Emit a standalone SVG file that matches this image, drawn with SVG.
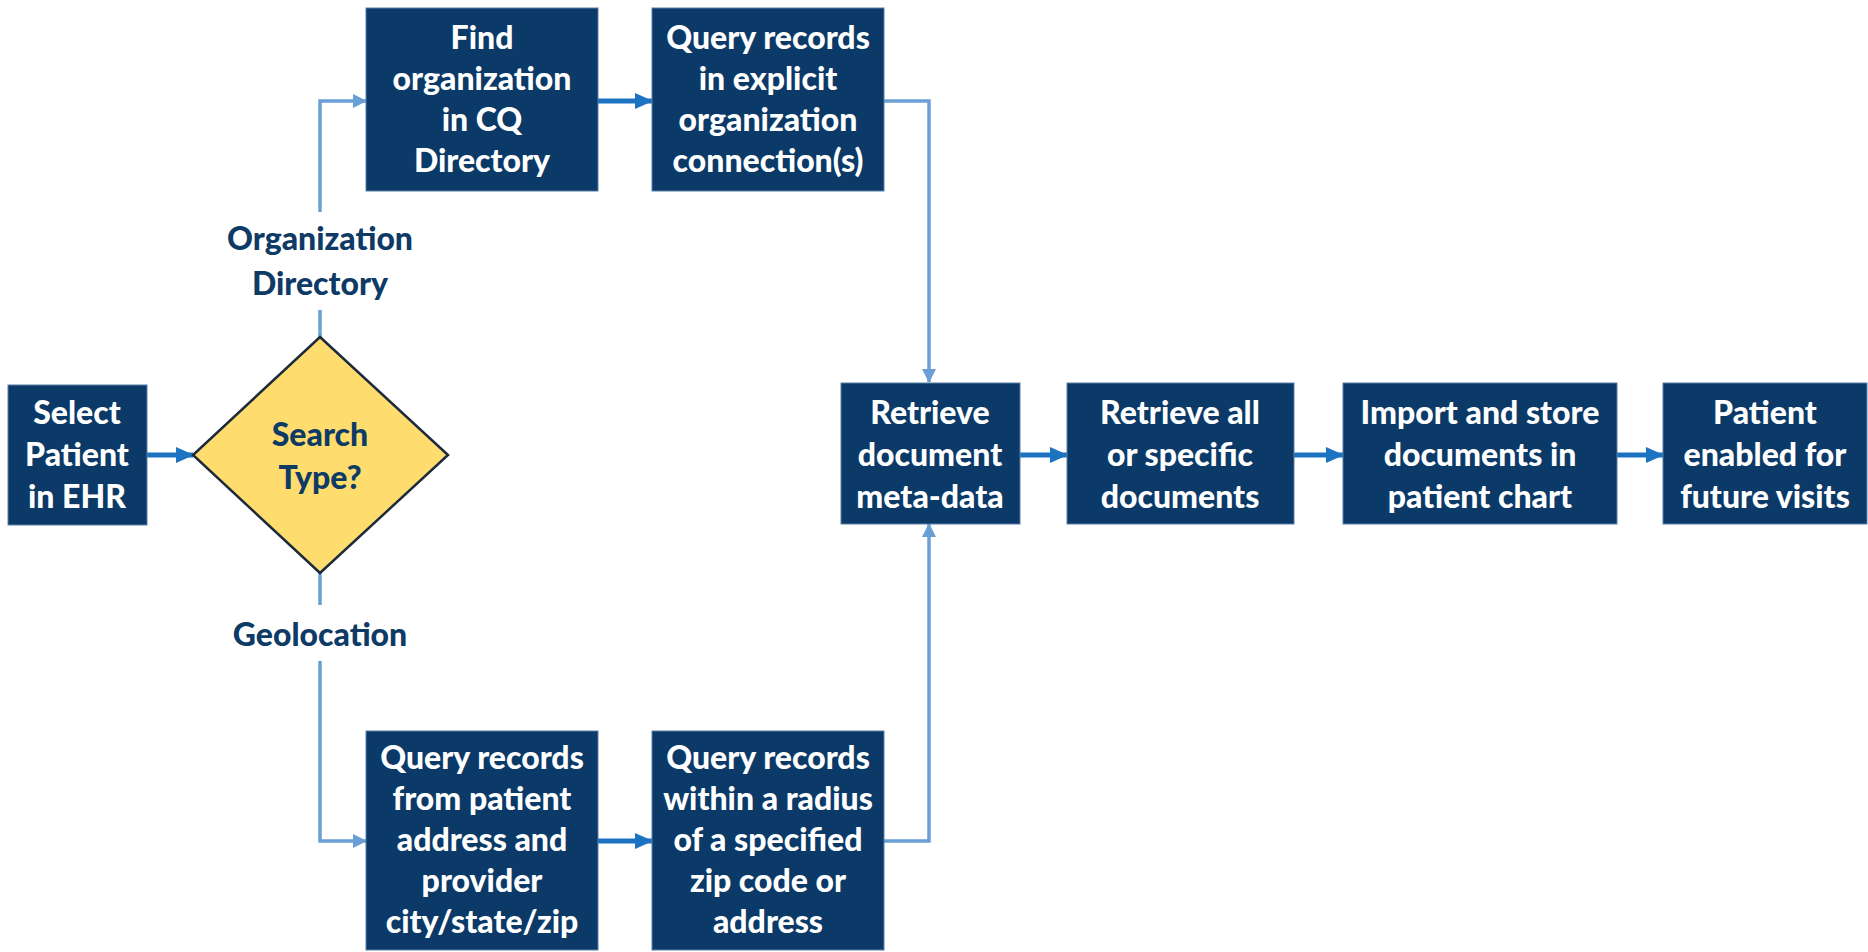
<svg xmlns="http://www.w3.org/2000/svg" width="1868" height="952" viewBox="0 0 1868 952">
<defs>
<style>
.box{fill:#0B3A68;stroke:#5A7FA8;stroke-width:1}
.t{font-family:Lato,"Open Sans",sans-serif;font-weight:900;font-size:32px;fill:#FFFFFF;text-anchor:middle}
.lbl{font-family:Lato,"Open Sans",sans-serif;font-weight:900;font-size:32px;fill:#0E3A66;text-anchor:middle}
.dk{fill:none;stroke:#1C73C2;stroke-width:5}
.lt{fill:none;stroke:#6A9FD6;stroke-width:3.5}
</style>
<marker id="al" markerWidth="14" markerHeight="14" refX="13" refY="7" orient="auto" markerUnits="userSpaceOnUse" viewBox="0 0 14 14"><path d="M0,0 L14,7 L0,14 z" fill="#6A9FD6"/></marker>
<marker id="adk" markerWidth="18" markerHeight="18" refX="17" refY="9" orient="auto" markerUnits="userSpaceOnUse" viewBox="0 0 18 18"><path d="M0,1 L18,9 L0,17 z" fill="#1C73C2"/></marker>
</defs>
<rect width="1868" height="952" fill="#FFFFFF"/>
<g id="connectors">
<path class="dk" d="M147,455 L193,455" marker-end="url(#adk)"/>
<path class="lt" d="M320,337 L320,310"/>
<path class="lt" d="M320,212 L320,101 L366,101" marker-end="url(#al)"/>
<path class="lt" d="M320,573 L320,605"/>
<path class="lt" d="M320,661 L320,841 L366,841" marker-end="url(#al)"/>
<path class="dk" d="M598,101 L652,101" marker-end="url(#adk)"/>
<path class="dk" d="M598,841 L652,841" marker-end="url(#adk)"/>
<path class="lt" d="M884,101 L929,101 L929,382" marker-end="url(#al)"/>
<path class="lt" d="M884,841 L929,841 L929,524" marker-end="url(#al)"/>
<path class="dk" d="M1020,455 L1067,455" marker-end="url(#adk)"/>
<path class="dk" d="M1294,455 L1343,455" marker-end="url(#adk)"/>
<path class="dk" d="M1617,455 L1663,455" marker-end="url(#adk)"/>
</g>
<g id="labels">
<text class="lbl" x="320" y="250">Organization</text>
<text class="lbl" x="320" y="295">Directory</text>
<text class="lbl" x="320" y="646">Geolocation</text>
</g>
<g id="select">
<rect class="box" x="8" y="385" width="139" height="140"/>
<text class="t" x="77" y="424">Select</text>
<text class="t" x="77" y="466">Patient</text>
<text class="t" x="77" y="508">in EHR</text>
</g>
<g id="decision">
<path d="M320,337 L448,455 L320,573 L193,455 Z" fill="#FEDC6E" stroke="#1C2B3C" stroke-width="2.5"/>
<text class="lbl" x="320" y="446">Search</text>
<text class="lbl" x="320" y="489">Type?</text>
</g>
<g id="findorg">
<rect class="box" x="366" y="8" width="232" height="183"/>
<text class="t" x="482" y="49">Find</text>
<text class="t" x="482" y="90">organization</text>
<text class="t" x="482" y="131">in CQ</text>
<text class="t" x="482" y="172">Directory</text>
</g>
<g id="queryexplicit">
<rect class="box" x="652" y="8" width="232" height="183"/>
<text class="t" x="768" y="49">Query records</text>
<text class="t" x="768" y="90">in explicit</text>
<text class="t" x="768" y="131">organization</text>
<text class="t" x="768" y="172">connection(s)</text>
</g>
<g id="querypatient">
<rect class="box" x="366" y="731" width="232" height="219"/>
<text class="t" x="482" y="769">Query records</text>
<text class="t" x="482" y="810">from patient</text>
<text class="t" x="482" y="851">address and</text>
<text class="t" x="482" y="892">provider</text>
<text class="t" x="482" y="933">city/state/zip</text>
</g>
<g id="queryradius">
<rect class="box" x="652" y="731" width="232" height="219"/>
<text class="t" x="768" y="769">Query records</text>
<text class="t" x="768" y="810">within a radius</text>
<text class="t" x="768" y="851">of a specified</text>
<text class="t" x="768" y="892">zip code or</text>
<text class="t" x="768" y="933">address</text>
</g>
<g id="metadata">
<rect class="box" x="841" y="383" width="179" height="141"/>
<text class="t" x="930" y="424">Retrieve</text>
<text class="t" x="930" y="466">document</text>
<text class="t" x="930" y="508">meta-data</text>
</g>
<g id="retrieveall">
<rect class="box" x="1067" y="383" width="227" height="141"/>
<text class="t" x="1180" y="424">Retrieve all</text>
<text class="t" x="1180" y="466">or specific</text>
<text class="t" x="1180" y="508">documents</text>
</g>
<g id="import">
<rect class="box" x="1343" y="383" width="274" height="141"/>
<text class="t" x="1480" y="424">Import and store</text>
<text class="t" x="1480" y="466">documents in</text>
<text class="t" x="1480" y="508">patient chart</text>
</g>
<g id="enabled">
<rect class="box" x="1663" y="383" width="204" height="141"/>
<text class="t" x="1765" y="424">Patient</text>
<text class="t" x="1765" y="466">enabled for</text>
<text class="t" x="1765" y="508">future visits</text>
</g>
</svg>
